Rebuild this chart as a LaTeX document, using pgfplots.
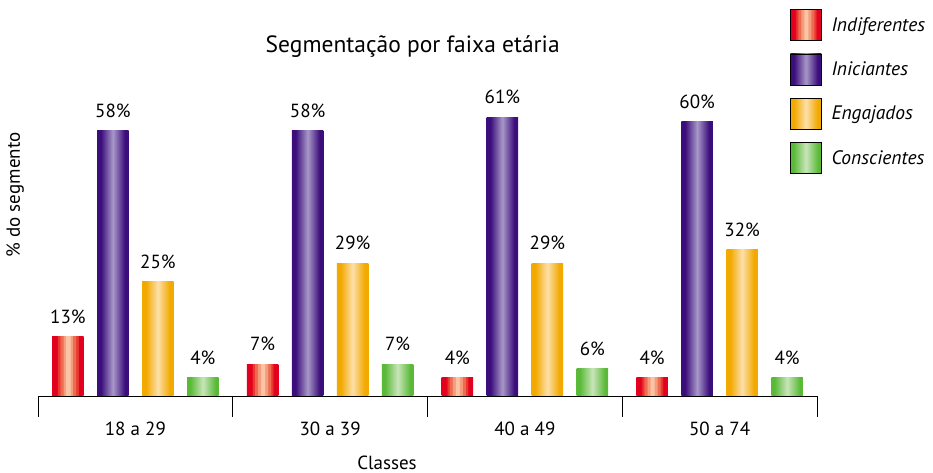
\documentclass[border=0pt]{standalone}
\usepackage{fontspec}
\setmainfont{PT Sans}
\usepackage{pgfplots}
\pgfplotsset{compat=1.18}

\definecolor{rA}{HTML}{E3001F}
\definecolor{rB}{HTML}{E8382F}
\definecolor{rC}{HTML}{EE6A50}
\definecolor{rD}{HTML}{F49C7C}
\definecolor{rE}{HTML}{FAC4A6}
\definecolor{pA}{HTML}{3C0E7C}
\definecolor{pB}{HTML}{A898C8}
\definecolor{oA}{HTML}{F2A900}
\definecolor{oB}{HTML}{FDE0AA}
\definecolor{gA}{HTML}{5ABA38}
\definecolor{gB}{HTML}{C9E5BA}

% horizontal shadings, the part 25bp..75bp covers the bar
\pgfdeclarehorizontalshading{indif}{100bp}{color(0bp)=(rA); color(33bp)=(rA);
  color(33.3bp)=(rB); color(37.5bp)=(rB); color(37.8bp)=(rC); color(42bp)=(rC);
  color(42.3bp)=(rD); color(46bp)=(rD); color(46.3bp)=(rE); color(53.7bp)=(rE);
  color(54bp)=(rD); color(57.7bp)=(rD); color(58bp)=(rC); color(62.2bp)=(rC);
  color(62.5bp)=(rB); color(66.7bp)=(rB); color(67bp)=(rA); color(100bp)=(rA)}
\pgfdeclarehorizontalshading{inic}{100bp}{color(0bp)=(pA); color(31bp)=(pA);
  color(50bp)=(pB); color(69bp)=(pA); color(100bp)=(pA)}
\pgfdeclarehorizontalshading{engaj}{100bp}{color(0bp)=(oA); color(31bp)=(oA);
  color(50bp)=(oB); color(69bp)=(oA); color(100bp)=(oA)}
\pgfdeclarehorizontalshading{consc}{100bp}{color(0bp)=(gA); color(30bp)=(gA);
  color(50bp)=(gB); color(70bp)=(gA); color(100bp)=(gA)}

\pgfplotsset{
  barlabel/.style={nodes near coords={\pgfmathprintnumber{\pgfplotspointmeta}\%},
    every node near coord/.append style={anchor=base, yshift=13.5pt, text=black,
      font=\fontsize{19}{22}\selectfont}},
}
% one bar per plot, so that each bar gets its own shading
% x positions: group + offset (offsets -0.3466, -0.1155, 0.1155, 0.3466)
\newcommand{\onebar}[3]{\addplot[ybar, bar width=31.5pt, draw=none, shade,
  shading=#1, barlabel, forget plot] coordinates {(#2,#3)};}
\newcommand{\legimg}[1]{\addlegendimage{legend image code/.code={%
  \path[shade, shading=#1] (0pt,-15.5pt) rectangle (31pt,15.5pt);}}}

\begin{document}
\begin{tikzpicture}[x=1pt,y=1pt]
\useasboundingbox (0,0) rectangle (933,473);
\begin{axis}[
    at={(38pt,77pt)}, anchor=south west,
    scale only axis, width=779pt, height=297pt,
    xmin=-0.5, xmax=3.5, ymin=0, ymax=65,
    axis x line*=bottom, axis y line*=left,
    x axis line style={black, line width=0.8pt, -},
    y axis line style={draw=none},
    ytick=\empty,
    xtick={0,1,2,3},
    xticklabels={18 a 29, 30 a 39, 40 a 49, 50 a 74},
    major tick length=0pt,
    xticklabel style={anchor=base, yshift=-40pt, font=\fontsize{19}{22}\selectfont},
    extra x ticks={-0.5,0.5,1.5,2.5,3.5},
    extra x tick labels={},
    extra x tick style={major tick length=21pt, tick align=outside,
      tick style={black, line width=0.8pt}},
    /pgf/number format/assume math mode=true,
    title={Segmentação por faixa etária},
    title style={at={(axis description cs:0.481,1.158)}, anchor=center,
      font=\fontsize{23.5}{27}\selectfont},
    xlabel={Classes},
    xlabel style={at={(axis description cs:0.448,-0.2236)}, anchor=center,
      inner sep=0pt, font=\fontsize{19}{22}\selectfont},
    ylabel={\% do segmento},
    ylabel style={at={(axis description cs:-0.0295,0.677)}, anchor=center,
      font=\fontsize{19}{22}\selectfont},
    legend style={at={(axis description cs:0.9653,1.303)}, anchor=north west,
      draw=none, fill=none, inner sep=0pt, row sep=13pt,
      font=\itshape\fontsize{19.5}{22}\selectfont,
      /tikz/every odd column/.style={column sep=8pt}},
    legend cell align=left,
  ]
  % Indiferentes
  \onebar{indif}{-0.3466}{13}
  \onebar{indif}{0.6534}{7}
  \onebar{indif}{1.6534}{4}
  \onebar{indif}{2.6534}{4}
  % Iniciantes
  \onebar{inic}{-0.1155}{58}
  \onebar{inic}{0.8845}{58}
  \onebar{inic}{1.8845}{61}
  \onebar{inic}{2.8845}{60}
  % Engajados
  \onebar{engaj}{0.1155}{25}
  \onebar{engaj}{1.1155}{29}
  \onebar{engaj}{2.1155}{29}
  \onebar{engaj}{3.1155}{32}
  % Conscientes
  \onebar{consc}{0.3466}{4}
  \onebar{consc}{1.3466}{7}
  \onebar{consc}{2.3466}{6}
  \onebar{consc}{3.3466}{4}

  \legimg{indif}\addlegendentry{Indiferentes}
  \legimg{inic}\addlegendentry{Iniciantes}
  \legimg{engaj}\addlegendentry{Engajados}
  \legimg{consc}\addlegendentry{Conscientes}
\end{axis}
\end{tikzpicture}
\end{document}
